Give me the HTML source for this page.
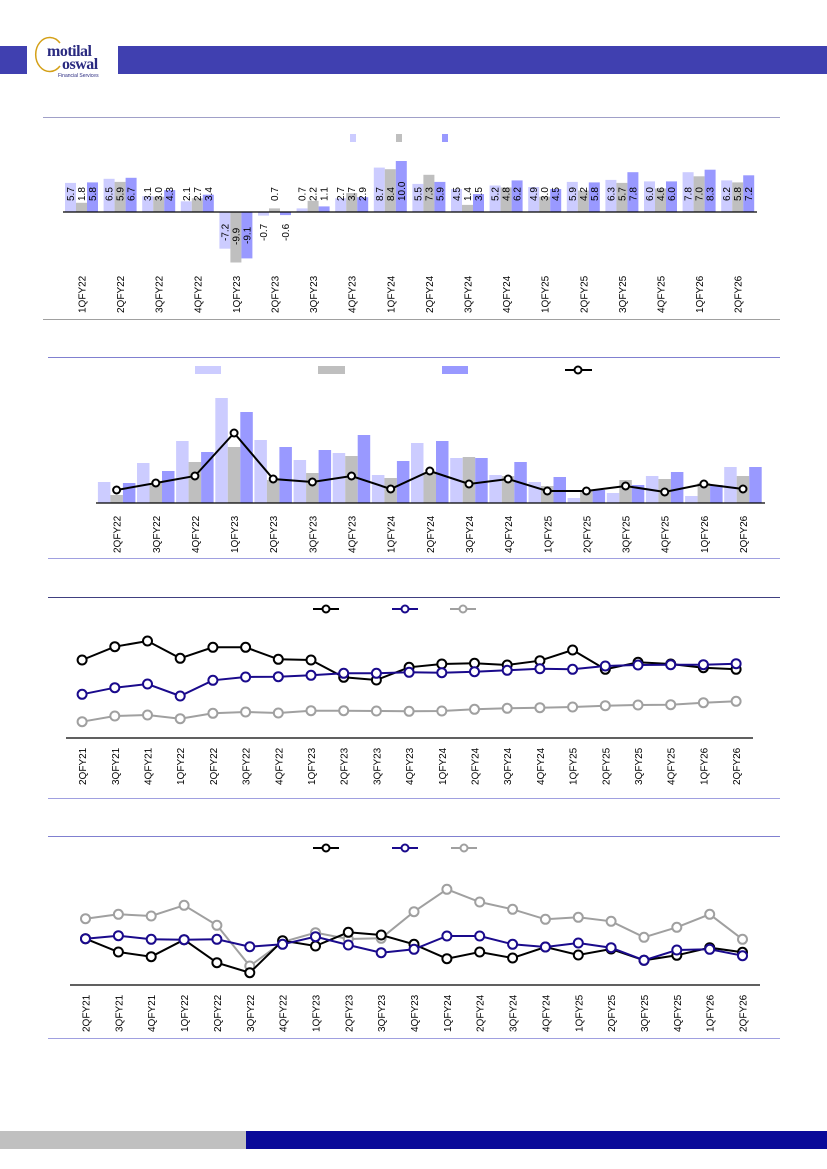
<!DOCTYPE html>
<html><head><meta charset="utf-8"><style>
html,body{margin:0;padding:0;background:#fff;width:827px;height:1169px;overflow:hidden}
svg{display:block;font-family:"Liberation Sans",sans-serif}
</style></head><body>
<svg width="827" height="1169" viewBox="0 0 827 1169" xmlns="http://www.w3.org/2000/svg">
<!-- header -->
<rect x="0" y="46" width="27" height="28" fill="#4040b0"/>
<rect x="118" y="46" width="709" height="28" fill="#4040b0"/>
<path d="M60,43 A14,17 0 1 0 60,66" fill="none" stroke="#d4a017" stroke-width="1.5"/>
<text x="47" y="56" font-family="Liberation Serif,serif" font-size="16" font-weight="bold" fill="#2a2a80" letter-spacing="-0.5">motilal</text>
<text x="62" y="69" font-family="Liberation Serif,serif" font-size="16" font-weight="bold" fill="#2a2a80" letter-spacing="-0.5">oswal</text>
<text x="58" y="77" font-size="5" fill="#2a2a80">Financial Services</text>
<!-- footer -->
<rect x="0" y="1131" width="246" height="18" fill="#c0c0c0"/>
<rect x="246" y="1131" width="581" height="18" fill="#0a0a99"/>

<!-- ===== Chart 1 ===== -->
<line x1="43" y1="117.5" x2="780" y2="117.5" stroke="#a0a0c8" stroke-width="1"/>
<line x1="43" y1="319.5" x2="780" y2="319.5" stroke="#a0a0a0" stroke-width="1"/>
<rect x="350" y="134" width="6" height="8" fill="#ccccff"/>
<rect x="396" y="134" width="6" height="8" fill="#bfbfbf"/>
<rect x="442" y="134" width="6" height="8" fill="#9999ff"/>
<g font-size="10" fill="#000">
<g transform="translate(65,0)"><rect x="0" y="182.9" width="11" height="29.1" fill="#ccccff"/><rect x="11" y="202.8" width="11" height="9.2" fill="#bfbfbf"/><rect x="22" y="182.4" width="11" height="29.6" fill="#9999ff"/><text transform="translate(9,201) rotate(-90)">5.7</text><text transform="translate(20,201) rotate(-90)">1.8</text><text transform="translate(31,201) rotate(-90)">5.8</text><text transform="translate(20.5,313) rotate(-90)">1QFY22</text></g>
<g transform="translate(103.6,0)"><rect x="0" y="178.8" width="11" height="33.2" fill="#ccccff"/><rect x="11" y="181.9" width="11" height="30.1" fill="#bfbfbf"/><rect x="22" y="177.8" width="11" height="34.2" fill="#9999ff"/><text transform="translate(9,201) rotate(-90)">6.5</text><text transform="translate(20,201) rotate(-90)">5.9</text><text transform="translate(31,201) rotate(-90)">6.7</text><text transform="translate(20.5,313) rotate(-90)">2QFY22</text></g>
<g transform="translate(142.2,0)"><rect x="0" y="196.2" width="11" height="15.8" fill="#ccccff"/><rect x="11" y="196.7" width="11" height="15.3" fill="#bfbfbf"/><rect x="22" y="190.1" width="11" height="21.9" fill="#9999ff"/><text transform="translate(9,201) rotate(-90)">3.1</text><text transform="translate(20,201) rotate(-90)">3.0</text><text transform="translate(31,201) rotate(-90)">4.3</text><text transform="translate(20.5,313) rotate(-90)">3QFY22</text></g>
<g transform="translate(180.8,0)"><rect x="0" y="201.3" width="11" height="10.7" fill="#ccccff"/><rect x="11" y="198.2" width="11" height="13.8" fill="#bfbfbf"/><rect x="22" y="194.7" width="11" height="17.3" fill="#9999ff"/><text transform="translate(9,201) rotate(-90)">2.1</text><text transform="translate(20,201) rotate(-90)">2.7</text><text transform="translate(31,201) rotate(-90)">3.4</text><text transform="translate(20.5,313) rotate(-90)">4QFY22</text></g>
<g transform="translate(219.4,0)"><rect x="0" y="212" width="11" height="36.7" fill="#ccccff"/><rect x="11" y="212" width="11" height="50.5" fill="#bfbfbf"/><rect x="22" y="212" width="11" height="46.4" fill="#9999ff"/><text transform="translate(9,241) rotate(-90)">-7.2</text><text transform="translate(20,245) rotate(-90)">-9.9</text><text transform="translate(31,244) rotate(-90)">-9.1</text><text transform="translate(20.5,313) rotate(-90)">1QFY23</text></g>
<g transform="translate(258,0)"><rect x="0" y="212" width="11" height="3.6" fill="#ccccff"/><rect x="11" y="208.4" width="11" height="3.6" fill="#bfbfbf"/><rect x="22" y="212" width="11" height="3.1" fill="#9999ff"/><text transform="translate(9,241) rotate(-90)">-0.7</text><text transform="translate(20,201) rotate(-90)">0.7</text><text transform="translate(31,241) rotate(-90)">-0.6</text><text transform="translate(20.5,313) rotate(-90)">2QFY23</text></g>
<g transform="translate(296.6,0)"><rect x="0" y="208.4" width="11" height="3.6" fill="#ccccff"/><rect x="11" y="200.8" width="11" height="11.2" fill="#bfbfbf"/><rect x="22" y="206.4" width="11" height="5.6" fill="#9999ff"/><text transform="translate(9,201) rotate(-90)">0.7</text><text transform="translate(20,201) rotate(-90)">2.2</text><text transform="translate(31,201) rotate(-90)">1.1</text><text transform="translate(20.5,313) rotate(-90)">3QFY23</text></g>
<g transform="translate(335.2,0)"><rect x="0" y="198.2" width="11" height="13.8" fill="#ccccff"/><rect x="11" y="193.1" width="11" height="18.9" fill="#bfbfbf"/><rect x="22" y="197.2" width="11" height="14.8" fill="#9999ff"/><text transform="translate(9,201) rotate(-90)">2.7</text><text transform="translate(20,201) rotate(-90)">3.7</text><text transform="translate(31,201) rotate(-90)">2.9</text><text transform="translate(20.5,313) rotate(-90)">4QFY23</text></g>
<g transform="translate(373.8,0)"><rect x="0" y="167.6" width="11" height="44.4" fill="#ccccff"/><rect x="11" y="169.2" width="11" height="42.8" fill="#bfbfbf"/><rect x="22" y="161" width="11" height="51" fill="#9999ff"/><text transform="translate(9,201) rotate(-90)">8.7</text><text transform="translate(20,201) rotate(-90)">8.4</text><text transform="translate(31,201) rotate(-90)">10.0</text><text transform="translate(20.5,313) rotate(-90)">1QFY24</text></g>
<g transform="translate(412.4,0)"><rect x="0" y="183.9" width="11" height="28.1" fill="#ccccff"/><rect x="11" y="174.8" width="11" height="37.2" fill="#bfbfbf"/><rect x="22" y="181.9" width="11" height="30.1" fill="#9999ff"/><text transform="translate(9,201) rotate(-90)">5.5</text><text transform="translate(20,201) rotate(-90)">7.3</text><text transform="translate(31,201) rotate(-90)">5.9</text><text transform="translate(20.5,313) rotate(-90)">2QFY24</text></g>
<g transform="translate(451,0)"><rect x="0" y="189" width="11" height="23" fill="#ccccff"/><rect x="11" y="204.9" width="11" height="7.1" fill="#bfbfbf"/><rect x="22" y="194.1" width="11" height="17.9" fill="#9999ff"/><text transform="translate(9,201) rotate(-90)">4.5</text><text transform="translate(20,201) rotate(-90)">1.4</text><text transform="translate(31,201) rotate(-90)">3.5</text><text transform="translate(20.5,313) rotate(-90)">3QFY24</text></g>
<g transform="translate(489.6,0)"><rect x="0" y="185.5" width="11" height="26.5" fill="#ccccff"/><rect x="11" y="187.5" width="11" height="24.5" fill="#bfbfbf"/><rect x="22" y="180.4" width="11" height="31.6" fill="#9999ff"/><text transform="translate(9,201) rotate(-90)">5.2</text><text transform="translate(20,201) rotate(-90)">4.8</text><text transform="translate(31,201) rotate(-90)">6.2</text><text transform="translate(20.5,313) rotate(-90)">4QFY24</text></g>
<g transform="translate(528.2,0)"><rect x="0" y="187" width="11" height="25" fill="#ccccff"/><rect x="11" y="196.7" width="11" height="15.3" fill="#bfbfbf"/><rect x="22" y="189" width="11" height="23" fill="#9999ff"/><text transform="translate(9,201) rotate(-90)">4.9</text><text transform="translate(20,201) rotate(-90)">3.0</text><text transform="translate(31,201) rotate(-90)">4.5</text><text transform="translate(20.5,313) rotate(-90)">1QFY25</text></g>
<g transform="translate(566.8,0)"><rect x="0" y="181.9" width="11" height="30.1" fill="#ccccff"/><rect x="11" y="190.6" width="11" height="21.4" fill="#bfbfbf"/><rect x="22" y="182.4" width="11" height="29.6" fill="#9999ff"/><text transform="translate(9,201) rotate(-90)">5.9</text><text transform="translate(20,201) rotate(-90)">4.2</text><text transform="translate(31,201) rotate(-90)">5.8</text><text transform="translate(20.5,313) rotate(-90)">2QFY25</text></g>
<g transform="translate(605.4,0)"><rect x="0" y="179.9" width="11" height="32.1" fill="#ccccff"/><rect x="11" y="182.9" width="11" height="29.1" fill="#bfbfbf"/><rect x="22" y="172.2" width="11" height="39.8" fill="#9999ff"/><text transform="translate(9,201) rotate(-90)">6.3</text><text transform="translate(20,201) rotate(-90)">5.7</text><text transform="translate(31,201) rotate(-90)">7.8</text><text transform="translate(20.5,313) rotate(-90)">3QFY25</text></g>
<g transform="translate(644,0)"><rect x="0" y="181.4" width="11" height="30.6" fill="#ccccff"/><rect x="11" y="188.5" width="11" height="23.5" fill="#bfbfbf"/><rect x="22" y="181.4" width="11" height="30.6" fill="#9999ff"/><text transform="translate(9,201) rotate(-90)">6.0</text><text transform="translate(20,201) rotate(-90)">4.6</text><text transform="translate(31,201) rotate(-90)">6.0</text><text transform="translate(20.5,313) rotate(-90)">4QFY25</text></g>
<g transform="translate(682.6,0)"><rect x="0" y="172.2" width="11" height="39.8" fill="#ccccff"/><rect x="11" y="176.3" width="11" height="35.7" fill="#bfbfbf"/><rect x="22" y="169.7" width="11" height="42.3" fill="#9999ff"/><text transform="translate(9,201) rotate(-90)">7.8</text><text transform="translate(20,201) rotate(-90)">7.0</text><text transform="translate(31,201) rotate(-90)">8.3</text><text transform="translate(20.5,313) rotate(-90)">1QFY26</text></g>
<g transform="translate(721.2,0)"><rect x="0" y="180.4" width="11" height="31.6" fill="#ccccff"/><rect x="11" y="182.4" width="11" height="29.6" fill="#bfbfbf"/><rect x="22" y="175.3" width="11" height="36.7" fill="#9999ff"/><text transform="translate(9,201) rotate(-90)">6.2</text><text transform="translate(20,201) rotate(-90)">5.8</text><text transform="translate(31,201) rotate(-90)">7.2</text><text transform="translate(20.5,313) rotate(-90)">2QFY26</text></g>
</g>
<line x1="63" y1="212" x2="757" y2="212" stroke="#000" stroke-width="1.2"/>

<!-- ===== Chart 2 ===== -->
<line x1="48" y1="357.5" x2="780" y2="357.5" stroke="#8080d0" stroke-width="1"/>
<line x1="48" y1="558.5" x2="780" y2="558.5" stroke="#a0a0e0" stroke-width="1"/>
<rect x="195" y="366" width="26" height="8" fill="#ccccff"/>
<rect x="318" y="366" width="27" height="8" fill="#bfbfbf"/>
<rect x="442" y="366" width="26" height="8" fill="#9999ff"/>
<line x1="565" y1="370" x2="592" y2="370" stroke="#000" stroke-width="2"/><circle cx="578" cy="370" r="3.5" fill="#fff" stroke="#000" stroke-width="2"/>
<g>
<!-- light -->
<g fill="#ccccff">
<rect x="97.9" y="482" width="12.5" height="21"/><rect x="137" y="463" width="12.5" height="40"/><rect x="176.1" y="441" width="12.5" height="62"/><rect x="215.3" y="398" width="12.5" height="105"/><rect x="254.4" y="440" width="12.5" height="63"/><rect x="293.6" y="460" width="12.5" height="43"/><rect x="332.7" y="453" width="12.5" height="50"/><rect x="371.9" y="475" width="12.5" height="28"/><rect x="411" y="443" width="12.5" height="60"/><rect x="450.2" y="458" width="12.5" height="45"/><rect x="489.3" y="475" width="12.5" height="28"/><rect x="528.5" y="482" width="12.5" height="21"/><rect x="567.6" y="498" width="12.5" height="5"/><rect x="606.8" y="493" width="12.5" height="10"/><rect x="645.9" y="476" width="12.5" height="27"/><rect x="685.1" y="496" width="12.5" height="7"/><rect x="724.2" y="467" width="12.5" height="36"/>
</g>
<g fill="#bfbfbf">
<rect x="110.4" y="495" width="12.5" height="8"/><rect x="149.5" y="483" width="12.5" height="20"/><rect x="188.6" y="462" width="12.5" height="41"/><rect x="227.8" y="447" width="12.5" height="56"/><rect x="266.9" y="480" width="12.5" height="23"/><rect x="306.1" y="473" width="12.5" height="30"/><rect x="345.2" y="456" width="12.5" height="47"/><rect x="384.4" y="478" width="12.5" height="25"/><rect x="423.5" y="473" width="12.5" height="30"/><rect x="462.7" y="457" width="12.5" height="46"/><rect x="501.8" y="476" width="12.5" height="27"/><rect x="541" y="486" width="12.5" height="17"/><rect x="580.1" y="491" width="12.5" height="12"/><rect x="619.3" y="480" width="12.5" height="23"/><rect x="658.4" y="479" width="12.5" height="24"/><rect x="697.6" y="483" width="12.5" height="20"/><rect x="736.7" y="476" width="12.5" height="27"/>
</g>
<g fill="#9999ff">
<rect x="122.9" y="483" width="12.5" height="20"/><rect x="162" y="471" width="12.5" height="32"/><rect x="201.1" y="452" width="12.5" height="51"/><rect x="240.3" y="412" width="12.5" height="91"/><rect x="279.4" y="447" width="12.5" height="56"/><rect x="318.6" y="450" width="12.5" height="53"/><rect x="357.7" y="435" width="12.5" height="68"/><rect x="396.9" y="461" width="12.5" height="42"/><rect x="436" y="441" width="12.5" height="62"/><rect x="475.2" y="458" width="12.5" height="45"/><rect x="514.3" y="462" width="12.5" height="41"/><rect x="553.5" y="477" width="12.5" height="26"/><rect x="592.6" y="490" width="12.5" height="13"/><rect x="631.8" y="485" width="12.5" height="18"/><rect x="670.9" y="472" width="12.5" height="31"/><rect x="710.1" y="485" width="12.5" height="18"/><rect x="749.2" y="467" width="12.5" height="36"/>
</g>
<polyline fill="none" stroke="#000" stroke-width="2" points="116.6,490 155.8,483 194.9,476 234.1,433 273.2,479 312.4,482 351.5,476 390.7,489 429.8,471 469,484 508.1,479 547.3,491 586.4,491 625.6,486 664.7,492 703.9,484 743,489"/>
<g fill="#fff" stroke="#000" stroke-width="2">
<circle cx="116.6" cy="490" r="3.5"/><circle cx="155.8" cy="483" r="3.5"/><circle cx="194.9" cy="476" r="3.5"/><circle cx="234.1" cy="433" r="3.5"/><circle cx="273.2" cy="479" r="3.5"/><circle cx="312.4" cy="482" r="3.5"/><circle cx="351.5" cy="476" r="3.5"/><circle cx="390.7" cy="489" r="3.5"/><circle cx="429.8" cy="471" r="3.5"/><circle cx="469" cy="484" r="3.5"/><circle cx="508.1" cy="479" r="3.5"/><circle cx="547.3" cy="491" r="3.5"/><circle cx="586.4" cy="491" r="3.5"/><circle cx="625.6" cy="486" r="3.5"/><circle cx="664.7" cy="492" r="3.5"/><circle cx="703.9" cy="484" r="3.5"/><circle cx="743" cy="489" r="3.5"/>
</g>
</g>
<line x1="96" y1="503" x2="765" y2="503" stroke="#000" stroke-width="1.2"/>
<g font-size="10" fill="#000">
<text transform="translate(120.6,553) rotate(-90)">2QFY22</text><text transform="translate(159.8,553) rotate(-90)">3QFY22</text><text transform="translate(198.9,553) rotate(-90)">4QFY22</text><text transform="translate(238.1,553) rotate(-90)">1QFY23</text><text transform="translate(277.2,553) rotate(-90)">2QFY23</text><text transform="translate(316.4,553) rotate(-90)">3QFY23</text><text transform="translate(355.5,553) rotate(-90)">4QFY23</text><text transform="translate(394.7,553) rotate(-90)">1QFY24</text><text transform="translate(433.8,553) rotate(-90)">2QFY24</text><text transform="translate(473,553) rotate(-90)">3QFY24</text><text transform="translate(512.1,553) rotate(-90)">4QFY24</text><text transform="translate(551.3,553) rotate(-90)">1QFY25</text><text transform="translate(590.4,553) rotate(-90)">2QFY25</text><text transform="translate(629.6,553) rotate(-90)">3QFY25</text><text transform="translate(668.7,553) rotate(-90)">4QFY25</text><text transform="translate(707.9,553) rotate(-90)">1QFY26</text><text transform="translate(747,553) rotate(-90)">2QFY26</text>
</g>

<!-- ===== Chart 3 ===== -->
<line x1="48" y1="597.5" x2="780" y2="597.5" stroke="#404080" stroke-width="1"/>
<line x1="48" y1="798.5" x2="780" y2="798.5" stroke="#a0a0e0" stroke-width="1"/>
<line x1="313" y1="609" x2="339" y2="609" stroke="#000" stroke-width="2"/><circle cx="326" cy="609" r="3.5" fill="#fff" stroke="#000" stroke-width="2"/>
<line x1="392" y1="609" x2="418" y2="609" stroke="#1a0a8c" stroke-width="2"/><circle cx="405" cy="609" r="3.5" fill="#fff" stroke="#1a0a8c" stroke-width="2"/>
<line x1="450" y1="609" x2="476" y2="609" stroke="#a0a0a0" stroke-width="2"/><circle cx="463" cy="609" r="3.5" fill="#fff" stroke="#a0a0a0" stroke-width="2"/>
<line x1="66" y1="738" x2="753" y2="738" stroke="#000" stroke-width="1.2"/>
<g fill="#fff" stroke-width="2">
<polyline fill="none" stroke="#a0a0a0" points="82.1,721.7 114.8,716 147.5,715 180.2,718.7 212.9,713.3 245.6,712 278.3,713 311,710.7 343.7,710.7 376.4,711 409.1,711.3 441.8,711 474.5,709.3 507.2,708.3 539.9,707.7 572.6,707 605.3,705.7 638,705 670.7,704.7 703.4,702.7 736.1,701.3"/>
<g stroke="#a0a0a0"><circle cx="82.1" cy="721.7" r="4.5"/><circle cx="114.8" cy="716" r="4.5"/><circle cx="147.5" cy="715" r="4.5"/><circle cx="180.2" cy="718.7" r="4.5"/><circle cx="212.9" cy="713.3" r="4.5"/><circle cx="245.6" cy="712" r="4.5"/><circle cx="278.3" cy="713" r="4.5"/><circle cx="311" cy="710.7" r="4.5"/><circle cx="343.7" cy="710.7" r="4.5"/><circle cx="376.4" cy="711" r="4.5"/><circle cx="409.1" cy="711.3" r="4.5"/><circle cx="441.8" cy="711" r="4.5"/><circle cx="474.5" cy="709.3" r="4.5"/><circle cx="507.2" cy="708.3" r="4.5"/><circle cx="539.9" cy="707.7" r="4.5"/><circle cx="572.6" cy="707" r="4.5"/><circle cx="605.3" cy="705.7" r="4.5"/><circle cx="638" cy="705" r="4.5"/><circle cx="670.7" cy="704.7" r="4.5"/><circle cx="703.4" cy="702.7" r="4.5"/><circle cx="736.1" cy="701.3" r="4.5"/></g>
<polyline fill="none" stroke="#000" points="82.1,660 114.8,646.7 147.5,641 180.2,658.3 212.9,647.3 245.6,647.3 278.3,659.3 311,660 343.7,677.3 376.4,680 409.1,667.3 441.8,664 474.5,663.3 507.2,665 539.9,660.7 572.6,650 605.3,669.3 638,662.3 670.7,664 703.4,667.7 736.1,669.3"/>
<g stroke="#000"><circle cx="82.1" cy="660" r="4.5"/><circle cx="114.8" cy="646.7" r="4.5"/><circle cx="147.5" cy="641" r="4.5"/><circle cx="180.2" cy="658.3" r="4.5"/><circle cx="212.9" cy="647.3" r="4.5"/><circle cx="245.6" cy="647.3" r="4.5"/><circle cx="278.3" cy="659.3" r="4.5"/><circle cx="311" cy="660" r="4.5"/><circle cx="343.7" cy="677.3" r="4.5"/><circle cx="376.4" cy="680" r="4.5"/><circle cx="409.1" cy="667.3" r="4.5"/><circle cx="441.8" cy="664" r="4.5"/><circle cx="474.5" cy="663.3" r="4.5"/><circle cx="507.2" cy="665" r="4.5"/><circle cx="539.9" cy="660.7" r="4.5"/><circle cx="572.6" cy="650" r="4.5"/><circle cx="605.3" cy="669.3" r="4.5"/><circle cx="638" cy="662.3" r="4.5"/><circle cx="670.7" cy="664" r="4.5"/><circle cx="703.4" cy="667.7" r="4.5"/><circle cx="736.1" cy="669.3" r="4.5"/></g>
<polyline fill="none" stroke="#1a0a8c" points="82.1,694.3 114.8,687.7 147.5,684 180.2,696 212.9,680.3 245.6,677 278.3,676.7 311,675.3 343.7,673.3 376.4,673.3 409.1,672.3 441.8,672.7 474.5,671.7 507.2,670.3 539.9,668.7 572.6,669.3 605.3,666 638,665 670.7,664.7 703.4,664.7 736.1,663.7"/>
<g stroke="#1a0a8c"><circle cx="82.1" cy="694.3" r="4.5"/><circle cx="114.8" cy="687.7" r="4.5"/><circle cx="147.5" cy="684" r="4.5"/><circle cx="180.2" cy="696" r="4.5"/><circle cx="212.9" cy="680.3" r="4.5"/><circle cx="245.6" cy="677" r="4.5"/><circle cx="278.3" cy="676.7" r="4.5"/><circle cx="311" cy="675.3" r="4.5"/><circle cx="343.7" cy="673.3" r="4.5"/><circle cx="376.4" cy="673.3" r="4.5"/><circle cx="409.1" cy="672.3" r="4.5"/><circle cx="441.8" cy="672.7" r="4.5"/><circle cx="474.5" cy="671.7" r="4.5"/><circle cx="507.2" cy="670.3" r="4.5"/><circle cx="539.9" cy="668.7" r="4.5"/><circle cx="572.6" cy="669.3" r="4.5"/><circle cx="605.3" cy="666" r="4.5"/><circle cx="638" cy="665" r="4.5"/><circle cx="670.7" cy="664.7" r="4.5"/><circle cx="703.4" cy="664.7" r="4.5"/><circle cx="736.1" cy="663.7" r="4.5"/></g>
</g>
<g font-size="10" fill="#000">
<text transform="translate(86.1,785) rotate(-90)">2QFY21</text><text transform="translate(118.8,785) rotate(-90)">3QFY21</text><text transform="translate(151.5,785) rotate(-90)">4QFY21</text><text transform="translate(184.2,785) rotate(-90)">1QFY22</text><text transform="translate(216.9,785) rotate(-90)">2QFY22</text><text transform="translate(249.6,785) rotate(-90)">3QFY22</text><text transform="translate(282.3,785) rotate(-90)">4QFY22</text><text transform="translate(315,785) rotate(-90)">1QFY23</text><text transform="translate(347.7,785) rotate(-90)">2QFY23</text><text transform="translate(380.4,785) rotate(-90)">3QFY23</text><text transform="translate(413.1,785) rotate(-90)">4QFY23</text><text transform="translate(445.8,785) rotate(-90)">1QFY24</text><text transform="translate(478.5,785) rotate(-90)">2QFY24</text><text transform="translate(511.2,785) rotate(-90)">3QFY24</text><text transform="translate(543.9,785) rotate(-90)">4QFY24</text><text transform="translate(576.6,785) rotate(-90)">1QFY25</text><text transform="translate(609.3,785) rotate(-90)">2QFY25</text><text transform="translate(642,785) rotate(-90)">3QFY25</text><text transform="translate(674.7,785) rotate(-90)">4QFY25</text><text transform="translate(707.4,785) rotate(-90)">1QFY26</text><text transform="translate(740.1,785) rotate(-90)">2QFY26</text>
</g>

<!-- ===== Chart 4 ===== -->
<line x1="48" y1="836.5" x2="780" y2="836.5" stroke="#8080d0" stroke-width="1"/>
<line x1="48" y1="1038.5" x2="780" y2="1038.5" stroke="#a0a0e0" stroke-width="1"/>
<line x1="313" y1="848" x2="339" y2="848" stroke="#000" stroke-width="2"/><circle cx="326" cy="848" r="3.5" fill="#fff" stroke="#000" stroke-width="2"/>
<line x1="392" y1="848" x2="418" y2="848" stroke="#1a0a8c" stroke-width="2"/><circle cx="405" cy="848" r="3.5" fill="#fff" stroke="#1a0a8c" stroke-width="2"/>
<line x1="451" y1="848" x2="477" y2="848" stroke="#a0a0a0" stroke-width="2"/><circle cx="464" cy="848" r="3.5" fill="#fff" stroke="#a0a0a0" stroke-width="2"/>
<line x1="70" y1="985" x2="760" y2="985" stroke="#000" stroke-width="1.2"/>
<g fill="#fff" stroke-width="2">
<polyline fill="none" stroke="#a0a0a0" points="85.5,918.7 118.4,914.3 151.2,916 184.1,905.3 216.9,925.3 249.8,966 282.6,942 315.5,932.7 348.3,939 381.2,938.3 414,911.7 446.9,889.3 479.7,902 512.6,909.3 545.4,919.3 578.3,917.3 611.1,921.3 644,937.3 676.8,927.3 709.7,914.3 742.5,939.3"/>
<g stroke="#a0a0a0"><circle cx="85.5" cy="918.7" r="4.5"/><circle cx="118.4" cy="914.3" r="4.5"/><circle cx="151.2" cy="916" r="4.5"/><circle cx="184.1" cy="905.3" r="4.5"/><circle cx="216.9" cy="925.3" r="4.5"/><circle cx="249.8" cy="966" r="4.5"/><circle cx="282.6" cy="942" r="4.5"/><circle cx="315.5" cy="932.7" r="4.5"/><circle cx="348.3" cy="939" r="4.5"/><circle cx="381.2" cy="938.3" r="4.5"/><circle cx="414" cy="911.7" r="4.5"/><circle cx="446.9" cy="889.3" r="4.5"/><circle cx="479.7" cy="902" r="4.5"/><circle cx="512.6" cy="909.3" r="4.5"/><circle cx="545.4" cy="919.3" r="4.5"/><circle cx="578.3" cy="917.3" r="4.5"/><circle cx="611.1" cy="921.3" r="4.5"/><circle cx="644" cy="937.3" r="4.5"/><circle cx="676.8" cy="927.3" r="4.5"/><circle cx="709.7" cy="914.3" r="4.5"/><circle cx="742.5" cy="939.3" r="4.5"/></g>
<polyline fill="none" stroke="#000" points="85.5,938.7 118.4,952 151.2,956.7 184.1,939.7 216.9,962.7 249.8,972.7 282.6,940.7 315.5,946 348.3,932.3 381.2,935 414,944.3 446.9,958.7 479.7,952 512.6,958 545.4,947 578.3,955 611.1,949 644,960.3 676.8,955.3 709.7,947.7 742.5,952.3"/>
<g stroke="#000"><circle cx="85.5" cy="938.7" r="4.5"/><circle cx="118.4" cy="952" r="4.5"/><circle cx="151.2" cy="956.7" r="4.5"/><circle cx="184.1" cy="939.7" r="4.5"/><circle cx="216.9" cy="962.7" r="4.5"/><circle cx="249.8" cy="972.7" r="4.5"/><circle cx="282.6" cy="940.7" r="4.5"/><circle cx="315.5" cy="946" r="4.5"/><circle cx="348.3" cy="932.3" r="4.5"/><circle cx="381.2" cy="935" r="4.5"/><circle cx="414" cy="944.3" r="4.5"/><circle cx="446.9" cy="958.7" r="4.5"/><circle cx="479.7" cy="952" r="4.5"/><circle cx="512.6" cy="958" r="4.5"/><circle cx="545.4" cy="947" r="4.5"/><circle cx="578.3" cy="955" r="4.5"/><circle cx="611.1" cy="949" r="4.5"/><circle cx="644" cy="960.3" r="4.5"/><circle cx="676.8" cy="955.3" r="4.5"/><circle cx="709.7" cy="947.7" r="4.5"/><circle cx="742.5" cy="952.3" r="4.5"/></g>
<polyline fill="none" stroke="#1a0a8c" points="85.5,938.7 118.4,935.7 151.2,939.3 184.1,939.7 216.9,939.3 249.8,946.7 282.6,944.3 315.5,936.7 348.3,945 381.2,952.7 414,949.3 446.9,936 479.7,936 512.6,944.3 545.4,947 578.3,943 611.1,947.7 644,960.3 676.8,950 709.7,949.3 742.5,955.7"/>
<g stroke="#1a0a8c"><circle cx="85.5" cy="938.7" r="4.5"/><circle cx="118.4" cy="935.7" r="4.5"/><circle cx="151.2" cy="939.3" r="4.5"/><circle cx="184.1" cy="939.7" r="4.5"/><circle cx="216.9" cy="939.3" r="4.5"/><circle cx="249.8" cy="946.7" r="4.5"/><circle cx="282.6" cy="944.3" r="4.5"/><circle cx="315.5" cy="936.7" r="4.5"/><circle cx="348.3" cy="945" r="4.5"/><circle cx="381.2" cy="952.7" r="4.5"/><circle cx="414" cy="949.3" r="4.5"/><circle cx="446.9" cy="936" r="4.5"/><circle cx="479.7" cy="936" r="4.5"/><circle cx="512.6" cy="944.3" r="4.5"/><circle cx="545.4" cy="947" r="4.5"/><circle cx="578.3" cy="943" r="4.5"/><circle cx="611.1" cy="947.7" r="4.5"/><circle cx="644" cy="960.3" r="4.5"/><circle cx="676.8" cy="950" r="4.5"/><circle cx="709.7" cy="949.3" r="4.5"/><circle cx="742.5" cy="955.7" r="4.5"/></g>
</g>
<g font-size="10" fill="#000">
<text transform="translate(89.5,1032) rotate(-90)">2QFY21</text><text transform="translate(122.4,1032) rotate(-90)">3QFY21</text><text transform="translate(155.2,1032) rotate(-90)">4QFY21</text><text transform="translate(188.1,1032) rotate(-90)">1QFY22</text><text transform="translate(220.9,1032) rotate(-90)">2QFY22</text><text transform="translate(253.8,1032) rotate(-90)">3QFY22</text><text transform="translate(286.6,1032) rotate(-90)">4QFY22</text><text transform="translate(319.5,1032) rotate(-90)">1QFY23</text><text transform="translate(352.3,1032) rotate(-90)">2QFY23</text><text transform="translate(385.2,1032) rotate(-90)">3QFY23</text><text transform="translate(418,1032) rotate(-90)">4QFY23</text><text transform="translate(450.9,1032) rotate(-90)">1QFY24</text><text transform="translate(483.7,1032) rotate(-90)">2QFY24</text><text transform="translate(516.6,1032) rotate(-90)">3QFY24</text><text transform="translate(549.4,1032) rotate(-90)">4QFY24</text><text transform="translate(582.3,1032) rotate(-90)">1QFY25</text><text transform="translate(615.1,1032) rotate(-90)">2QFY25</text><text transform="translate(648,1032) rotate(-90)">3QFY25</text><text transform="translate(680.8,1032) rotate(-90)">4QFY25</text><text transform="translate(713.7,1032) rotate(-90)">1QFY26</text><text transform="translate(746.5,1032) rotate(-90)">2QFY26</text>
</g>
</svg>
</body></html>
